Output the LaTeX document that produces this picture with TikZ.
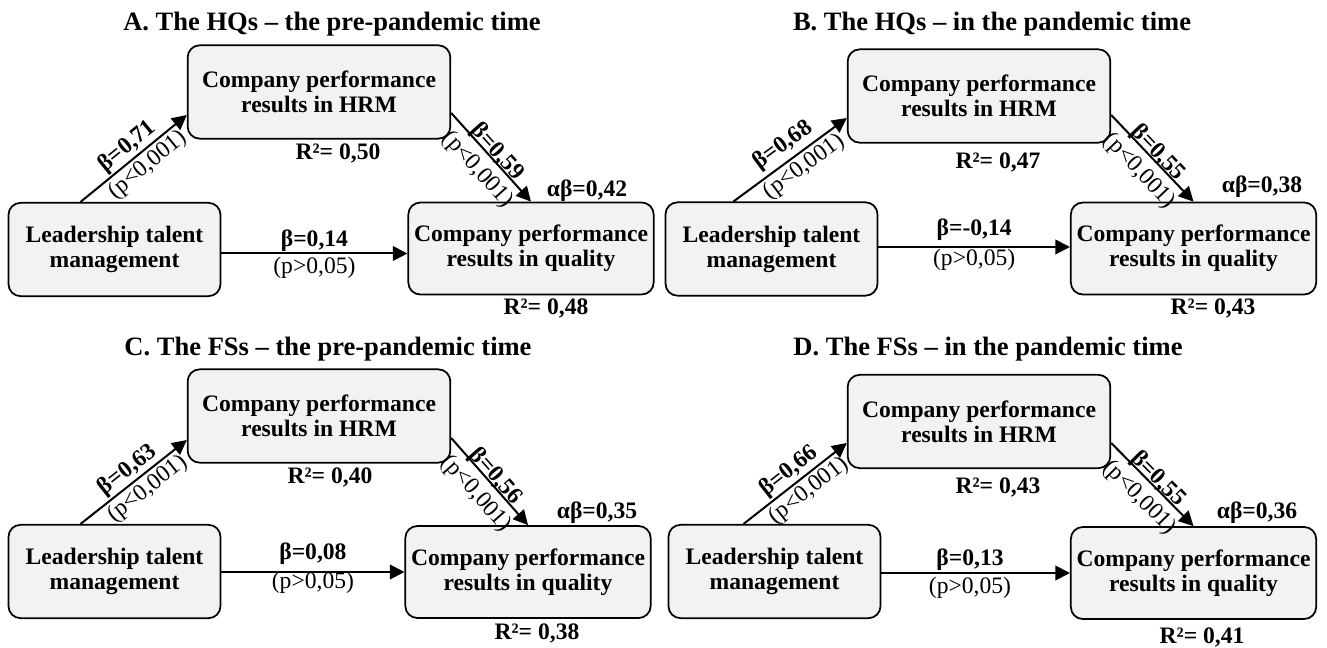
\documentclass[tikz,border=0pt]{standalone}
\usepackage{fontspec}
\setmainfont{Liberation Serif}
\usetikzlibrary{positioning,arrows.meta,calc}
\definecolor{boxfill}{RGB}{242,242,242}

\begin{document}
\begin{tikzpicture}[x=0.75pt,y=-0.75pt,>={Triangle[length=11pt,width=11pt]},
  boxs/.style={draw,line width=1.3pt,rounded corners=9pt,fill=boxfill,align=center,inner sep=1pt,
    font=\fontsize{17.7}{18.8}\selectfont\bfseries},
  hrms/.style={boxs,minimum width=197pt,minimum height=70pt},
  ltms/.style={boxs,minimum width=159pt,minimum height=70pt},
  qlts/.style={boxs,minimum width=184pt,minimum height=69pt},
  ttl/.style={font=\fontsize{19.9}{23}\selectfont\bfseries},
  coef/.style={font=\fontsize{17.7}{20}\selectfont\bfseries,inner sep=1pt},
  pval/.style={font=\fontsize{17.7}{20}\selectfont,inner sep=2pt},
  arr/.style={->,line width=1.5pt}]
  \useasboundingbox (0,0) rectangle (1327,648);
  % A
  \node[ttl] (tA) at (332,24) {A. The HQs – the pre-pandemic time};
  \node[hrms] (hA) at (319,92) {Company performance\\results in HRM};
  \node[ltms] (lA) at (114.5,249.5) {Leadership talent\\management};
  \node[qlts] (qA) at (531,248.5) {Company performance\\results in quality};
  \draw[arr] ($(lA.north)+(-34,0)$) -- node[coef,sloped,above,pos=0.52]{β=0,71} node[pval,sloped,below,pos=0.55]{(p<0,001)} ($(hA.west)+(0,23)$);
  \draw[arr] ($(hA.east)+(0,21)$) -- node[coef,sloped,above=-4pt]{β=0,59} node[pval,sloped,below=3pt]{(p<0,001)} (qA.north);
  \draw[arr] ($(lA.east)+(0,4)$) -- node[coef,above]{β=0,14} node[pval,below]{(p>0,05)} ($(qA.west)+(0,5)$);
  \node[coef] (rhA) at (338,153) {R²= 0,50};
  \node[coef] (abA) at (587,191) {αβ=0,42};
  \node[coef] (rqA) at (546,308) {R²= 0,48};
  % B
  \node[ttl] (tB) at (992,24) {B. The HQs – in the pandemic time};
  \node[hrms] (hB) at (979,96) {Company performance\\results in HRM};
  \node[ltms] (lB) at (771.5,249) {Leadership talent\\management};
  \node[qlts] (qB) at (1193.5,248.5) {Company performance\\results in quality};
  \draw[arr] ($(lB.north)+(-38,0)$) -- node[coef,sloped,above=2pt,pos=0.52]{β=0,68} node[pval,sloped,below,pos=0.55]{(p<0,001)} ($(hB.west)+(0,22)$);
  \draw[arr] ($(hB.east)+(0,19)$) -- node[coef,sloped,above=-4pt]{β=0,55} node[pval,sloped,below=3pt]{(p<0,001)} (qB.north);
  \draw[arr] ($(lB.east)+(0,-2)$) -- node[coef,above=3pt]{β=-0,14} node[pval,below=-1pt]{(p>0,05)} ($(qB.west)+(0,-1.5)$);
  \node[coef] (rhB) at (998,162) {R²= 0,47};
  \node[coef] (abB) at (1262,187) {αβ=0,38};
  \node[coef] (rqB) at (1213,308) {R²= 0,43};
  % C
  \node[ttl] (tC) at (328,349) {C. The FSs – the pre-pandemic time};
  \node[hrms] (hC) at (319,416) {Company performance\\results in HRM};
  \node[ltms] (lC) at (114.5,571.5) {Leadership talent\\management};
  \node[qlts] (qC) at (528,572) {Company performance\\results in quality};
  \draw[arr] ($(lC.north)+(-34,0)$) -- node[coef,sloped,above,pos=0.52]{β=0,63} node[pval,sloped,below,pos=0.55]{(p<0,001)} ($(hC.west)+(0,24)$);
  \draw[arr] ($(hC.east)+(0,22)$) -- node[coef,sloped,above=-4pt]{β=0,56} node[pval,sloped,below=3pt]{(p<0,001)} (qC.north);
  \draw[arr] ($(lC.east)+(0,0.5)$) -- node[coef,above=4pt]{β=0,08} node[pval,below=-3pt]{(p>0,05)} (qC.west);
  \node[coef] (rhC) at (330,477) {R²= 0,40};
  \node[coef] (abC) at (597,513) {αβ=0,35};
  \node[coef] (rqC) at (537,633) {R²= 0,38};
  % D
  \node[ttl] (tD) at (988,349) {D. The FSs – in the pandemic time};
  \node[hrms] (hD) at (979,421.5) {Company performance\\results in HRM};
  \node[ltms] (lD) at (774.5,571.5) {Leadership talent\\management};
  \node[qlts] (qD) at (1193.5,573) {Company performance\\results in quality};
  \draw[arr] ($(lD.north)+(-31,0)$) -- node[coef,sloped,above,pos=0.52]{β=0,66} node[pval,sloped,below,pos=0.55]{(p<0,001)} ($(hD.west)+(0,21.5)$);
  \draw[arr] ($(hD.east)+(0,21.5)$) -- node[coef,sloped,above=-4pt]{β=0,55} node[pval,sloped,below=3pt]{(p<0,001)} (qD.north);
  \draw[arr] ($(lD.east)+(0,1.5)$) -- node[coef,above,pos=0.47]{β=0,13} node[pval,below,pos=0.47]{(p>0,05)} (qD.west);
  \node[coef] (rhD) at (998,487) {R²= 0,43};
  \node[coef] (abD) at (1257,513) {αβ=0,36};
  \node[coef] (rqD) at (1202,637) {R²= 0,41};
\end{tikzpicture}
\end{document}
